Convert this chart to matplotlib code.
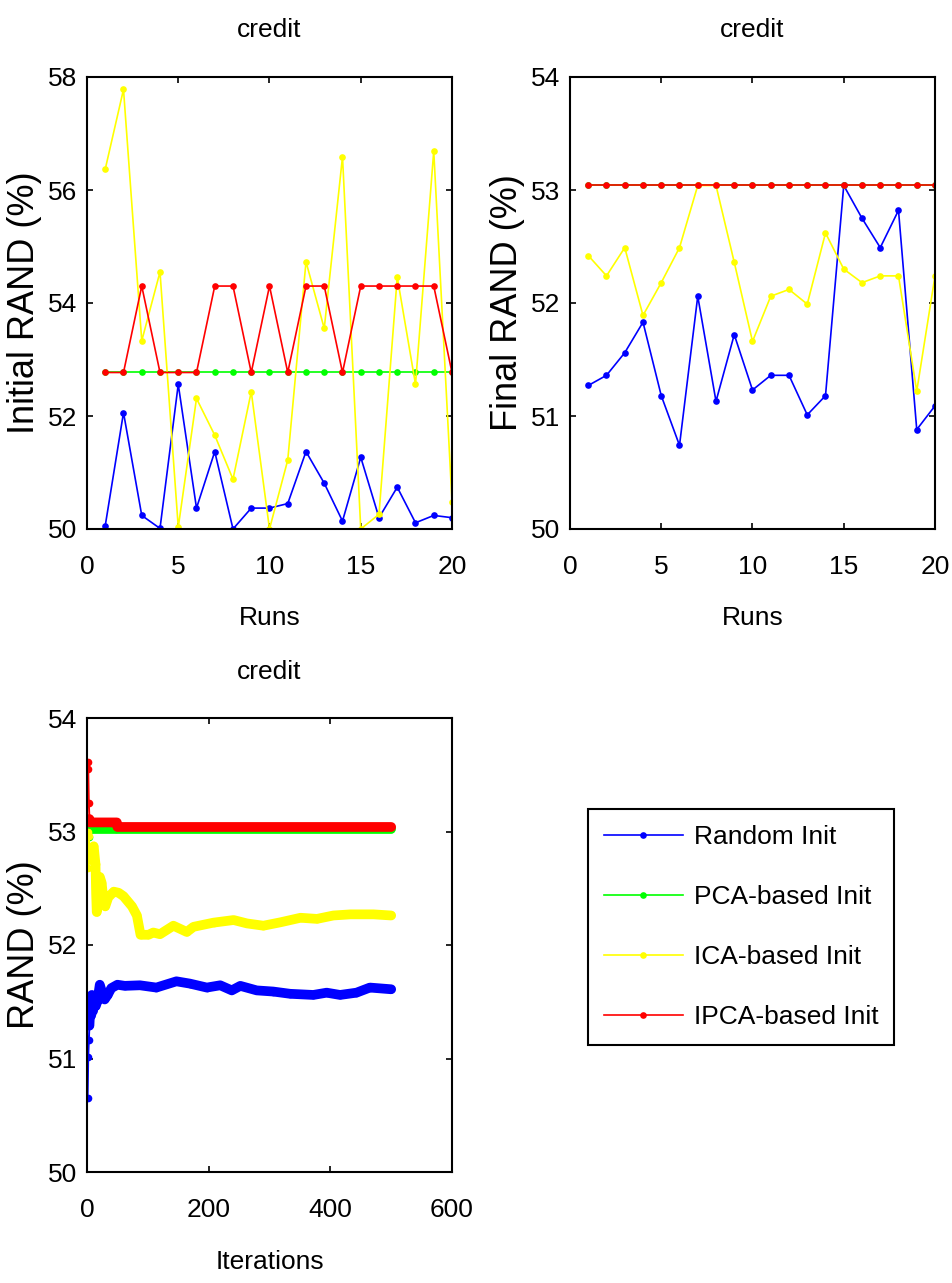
import matplotlib
matplotlib.use('Agg')
import matplotlib.pyplot as plt
from matplotlib import font_manager

# pick a narrow sans like the MATLAB export, fall back to Liberation Sans
try:
    font_manager.findfont(font_manager.FontProperties(family='Liberation Sans Narrow'),
                          fallback_to_default=False)
    NARROW = 'Liberation Sans Narrow'
except Exception:
    NARROW = 'Liberation Sans'
plt.rcParams['font.family'] = [NARROW, 'DejaVu Sans']

labels = ['Random Init', 'PCA-based Init', 'ICA-based Init', 'IPCA-based Init']
colors = ['#0000ff', '#00ff00', '#ffff00', '#ff0000']

# --- initial RAND per run ---
runs = list(range(1, 21))
init_random = [50.06, 52.06, 50.24, 50.01, 52.56, 50.37, 51.37, 50.00, 50.37, 50.37,
               50.45, 51.37, 50.81, 50.14, 51.27, 50.20, 50.74, 50.11, 50.24, 50.20]
init_pca = [52.77] * 20
init_ica = [56.37, 57.78, 53.33, 54.55, 50.03, 52.31, 51.66, 50.88, 52.43, 50.00,
            51.22, 54.73, 53.55, 56.59, 50.00, 50.26, 54.46, 52.56, 56.69, 50.48]
init_ipca = [52.77, 52.77, 54.30, 52.77, 52.77, 52.77, 54.30, 54.30, 52.77, 54.30,
             52.77, 54.30, 54.30, 52.77, 54.30, 54.30, 54.30, 54.30, 54.30, 52.77]

# --- final RAND per run ---
final_random = [51.27, 51.36, 51.56, 51.83, 51.18, 50.74, 52.06, 51.13, 51.72, 51.23,
                51.36, 51.36, 51.01, 51.18, 53.04, 52.75, 52.49, 52.82, 50.88, 51.09]
final_pca = [53.04] * 20
final_ica = [52.42, 52.24, 52.49, 51.89, 52.18, 52.49, 53.04, 53.04, 52.36, 51.66,
             52.06, 52.12, 51.99, 52.62, 52.30, 52.18, 52.24, 52.24, 51.22, 52.24]
final_ipca = [53.04] * 20

# --- mean RAND vs iterations ---
it_random = [1, 2, 3, 4, 5, 6, 7, 8, 10, 12, 14, 17, 21, 25, 29, 34, 40, 50, 62, 87,
             114, 147, 169, 197, 219, 238, 252, 279, 306, 334, 372, 394, 416, 443, 465, 500]
rand_random = [50.65, 51.01, 51.16, 51.29, 51.40, 51.48, 51.38, 51.56, 51.42, 51.52,
               51.46, 51.50, 51.65, 51.58, 51.52, 51.56, 51.62, 51.65, 51.64, 51.645,
               51.625, 51.68, 51.66, 51.625, 51.645, 51.60, 51.64, 51.60, 51.59, 51.57,
               51.56, 51.58, 51.56, 51.58, 51.625, 51.61]
it_pca = [1, 2, 3, 4, 48, 500]
rand_pca = [52.77, 53.11, 52.95, 53.02, 53.02, 53.02]
it_ica = [1, 2, 3, 4, 6, 8, 11, 14, 15, 16, 18, 21, 24, 27, 30, 35, 44, 52, 60, 74,
          82, 88, 101, 109, 120, 142, 164, 175, 208, 241, 263, 290, 318, 351, 378, 405,
          433, 471, 500]
rand_ica = [53.00, 52.68, 52.96, 52.75, 52.80, 52.84, 52.87, 52.71, 52.45, 52.29,
            52.35, 52.60, 52.55, 52.40, 52.34, 52.42, 52.47, 52.46, 52.43, 52.34,
            52.26, 52.09, 52.09, 52.11, 52.095, 52.17, 52.115, 52.16, 52.197, 52.22,
            52.19, 52.17, 52.20, 52.24, 52.23, 52.26, 52.27, 52.27, 52.26]
it_ipca = [1, 2, 3, 4, 5, 49, 50, 500]
rand_ipca = [53.61, 53.55, 53.25, 53.11, 53.08, 53.08, 53.04, 53.04]

FS = 19
W, H = 953, 1283
fig = plt.figure(figsize=(W / 100, H / 100), dpi=100)
ax1 = fig.add_axes([87 / W, 1 - 529 / H, 365 / W, 452 / H])
ax2 = fig.add_axes([570 / W, 1 - 529 / H, 365 / W, 452 / H])
ax3 = fig.add_axes([87 / W, 1 - 1172 / H, 365 / W, 454 / H])


def style(ax, xlabel, ylabel, xlab_y, ylab_x, title_y):
    for s in ax.spines.values():
        s.set_linewidth(1.5)
    ax.tick_params(direction='in', top=True, right=True, length=4, width=1.2,
                   labelsize=FS)
    ax.tick_params(axis='x', pad=19)
    ax.tick_params(axis='y', pad=7)
    ax.set_title('credit', fontsize=FS, y=title_y, va='center', pad=0)
    ax.set_xlabel(xlabel, fontsize=FS, va='center')
    ax.xaxis.set_label_coords(0.5, xlab_y)
    ax.set_ylabel(ylabel, fontsize=26, family=['Liberation Sans', 'DejaVu Sans'],
                  va='center')
    ax.yaxis.set_label_coords(ylab_x, 0.5)


handles = []
for ys, c in zip([init_random, init_pca, init_ica, init_ipca], colors):
    h, = ax1.plot(runs, ys, '-o', color=c, lw=1.2, ms=4.8, mew=0)
    handles.append(h)
ax1.set_xlim(0, 20)
ax1.set_ylim(50, 58)
ax1.set_xticks([0, 5, 10, 15, 20])
ax1.set_yticks([50, 52, 54, 56, 58])
style(ax1, 'Runs', 'Initial RAND (%)', -0.197, -0.172, 1.105)

for ys, c in zip([final_random, final_pca, final_ica, final_ipca], colors):
    ax2.plot(runs, ys, '-o', color=c, lw=1.2, ms=4.8, mew=0)
ax2.set_xlim(0, 20)
ax2.set_ylim(50, 54)
ax2.set_xticks([0, 5, 10, 15, 20])
ax2.set_yticks([50, 51, 52, 53, 54])
style(ax2, 'Runs', 'Final RAND (%)', -0.197, -0.17, 1.105)

series = [(it_random, rand_random), (it_pca, rand_pca), (it_ica, rand_ica), (it_ipca, rand_ipca)]
for (xs, ys), c in zip(series, colors):
    ax3.plot(xs, ys, '-o', color=c, lw=1.4, ms=5.5, mew=0)
    # dense per-iteration markers form a thick band after the first few iterations
    ax3.plot(xs[3:], ys[3:], '-', color=c, lw=7, solid_capstyle='round')
ax3.set_xlim(0, 600)
ax3.set_ylim(50, 54)
ax3.set_xticks([0, 200, 400, 600])
ax3.set_yticks([50, 51, 52, 53, 54])
style(ax3, 'Iterations', 'RAND (%)', -0.198, -0.172, 1.101)

leg = fig.legend(handles, labels, loc='upper left', bbox_to_anchor=(588 / W, 1 - 809 / H),
                 fancybox=False, edgecolor='k', framealpha=1, fontsize=FS,
                 borderpad=0.6, handlelength=3.0, handletextpad=0.4,
                 labelspacing=1.37, borderaxespad=0)
leg.get_frame().set_linewidth(1.5)

fig.savefig('out.png', dpi=100)
